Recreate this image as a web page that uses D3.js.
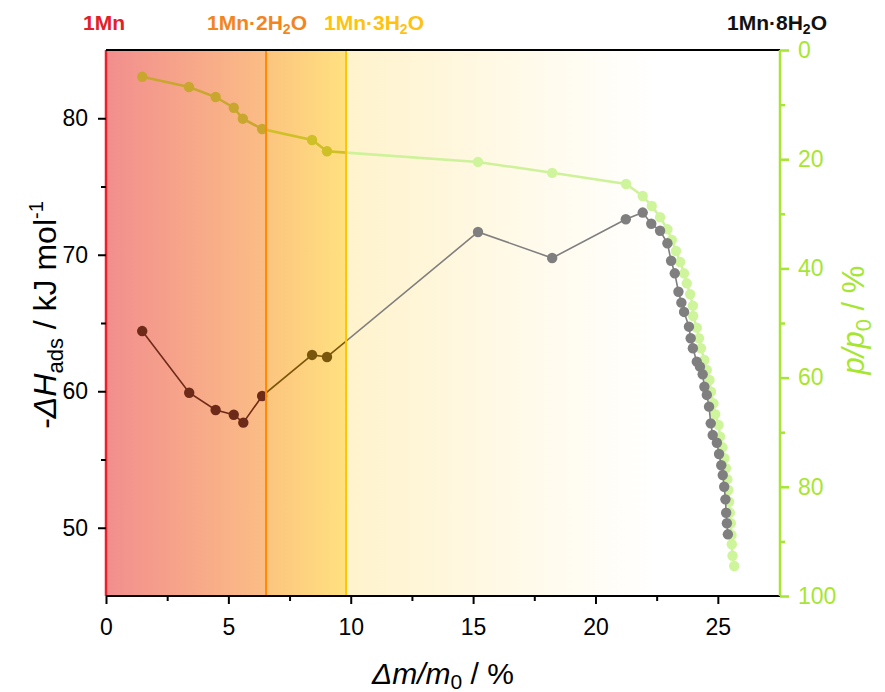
<!DOCTYPE html>
<html>
<head>
<meta charset="utf-8">
<script src="https://cdn.jsdelivr.net/npm/d3@7"></script>
<style>
html,body{margin:0;padding:0;background:#fff;}
svg{display:block;font-family:"Liberation Sans",Arial,sans-serif;}
</style>
</head>
<body>
<svg id="chart" width="885" height="692"></svg>
<script>
// ---- data ----
const enthalpyX = [1.48,3.40,4.48,5.22,5.61,6.38,8.42,9.03,15.2,18.23,21.24,21.93,22.28,22.64,22.94,23.09,23.24,23.39,23.51,23.62,23.82,23.89,23.98,24.14,24.27,24.38,24.45,24.55,24.64,24.71,24.79,24.96,25.05,25.14,25.20,25.26,25.31,25.34,25.37,25.41];
const enthalpyY = [64.41,59.89,58.63,58.28,57.7,59.65,62.66,62.51,71.67,69.76,72.6,73.09,72.27,71.76,70.84,69.56,68.64,67.29,66.49,65.81,64.73,63.88,63.15,62.17,61.80,61.24,60.33,59.73,58.87,57.65,56.79,56.23,55.40,54.58,53.86,53.0,52.08,51.10,50.33,49.52];
const pressureX = [1.48,3.39,4.48,5.22,5.59,6.38,8.42,9.03,15.2,18.23,21.25,21.93,22.30,22.64,22.94,23.12,23.29,23.46,23.62,23.73,23.87,23.98,23.99,24.14,24.23,24.31,24.45,24.55,24.66,24.72,24.82,24.89,25.03,25.09,25.19,25.27,25.33,25.39,25.43,25.46,25.49,25.53,25.56,25.57,25.60,25.67];
const pressureY = [4.89,6.78,8.61,10.57,12.58,14.47,16.48,18.55,20.5,22.5,24.54,26.74,28.57,30.64,32.84,34.8,36.81,38.83,40.9,42.73,44.74,46.83,48.72,50.86,52.8,54.63,56.78,58.61,60.44,62.58,64.71,66.72,68.68,70.82,72.77,74.78,76.61,78.63,80.59,82.73,84.74,86.68,88.83,90.53,92.62,94.51];
const phaseLabels = ["1Mn","1Mn·2H","1Mn·3H","1Mn·8H"];
const phaseBounds = [0, 6.54, 9.81];
const xTicks = [0,5,10,15,20,25];
const yLeftTicks = [50,60,70,80];
const yRightTicks = [0,20,40,60,80,100];

// ---- layout ----
const L = 106, R = 780, T = 50, B = 596;
const svg = d3.select("#chart");
const x = d3.scaleLinear().domain([0, 27.54]).range([L, R]);
const yL = d3.scaleLinear().domain([45, 85]).range([B, T]);
const yR = d3.scaleLinear().domain([0, 100]).range([T, B]);

const defs = svg.append("defs");
function grad(id, c1, c2){
  const g = defs.append("linearGradient").attr("id", id).attr("x1","0%").attr("x2","100%").attr("y1","0%").attr("y2","0%");
  g.append("stop").attr("offset","0%").attr("stop-color",c1);
  g.append("stop").attr("offset","100%").attr("stop-color",c2);
}
grad("g1", "#f28e8e", "#fbbd85");
grad("g2", "#fcc47f", "#ffe17f");
grad("g3", "#fff3cc", "#ffffff");

const regions = [
  {x0: 0, x1: phaseBounds[1], gray: "#6e2a18", green: "#c9a72e", greenLine: "#c9a72e"},
  {x0: phaseBounds[1], x1: phaseBounds[2], gray: "#7a560c", green: "#cfc027", greenLine: "#cfc027"},
  {x0: phaseBounds[2], x1: 27.54, gray: "#7f7f7f", green: "#cff59c", greenLine: "#cdf29a"}
];

// ---- shading ----
svg.append("rect").attr("x",x(0)).attr("y",T).attr("width",x(phaseBounds[1])-x(0)).attr("height",B-T).attr("fill","url(#g1)");
svg.append("rect").attr("x",x(phaseBounds[1])).attr("y",T).attr("width",x(phaseBounds[2])-x(phaseBounds[1])).attr("height",B-T).attr("fill","url(#g2)");
svg.append("rect").attr("x",x(phaseBounds[2])).attr("y",T).attr("width",x(22.5)-x(phaseBounds[2])).attr("height",B-T).attr("fill","url(#g3)");

// ---- data layer, tinted per region ----
const pPts = pressureX.map((v,i)=>[v, pressureY[i]]);
const hPts = enthalpyX.map((v,i)=>[v, enthalpyY[i]]);
regions.forEach((rg,i)=>{
  defs.append("clipPath").attr("id","clip"+i).append("rect")
    .attr("x",x(rg.x0)).attr("y",0).attr("width",x(rg.x1)-x(rg.x0) + (i===2?120:0)).attr("height",692);
  const g = svg.append("g").attr("clip-path",`url(#clip${i})`);
  g.append("path").datum(pPts)
    .attr("d", d3.line().x(d=>x(d[0])).y(d=>yR(d[1])))
    .attr("fill","none").attr("stroke",rg.greenLine).attr("stroke-width",2.5);
  g.selectAll("circle.p").data(pPts).enter().append("circle")
    .attr("cx", d=>x(d[0])).attr("cy", d=>yR(d[1])).attr("r",5.2).attr("fill",rg.green);
  g.append("path").datum(hPts)
    .attr("d", d3.line().x(d=>x(d[0])).y(d=>yL(d[1])))
    .attr("fill","none").attr("stroke",rg.gray).attr("stroke-width",1.6);
  g.selectAll("circle.h").data(hPts).enter().append("circle")
    .attr("cx", d=>x(d[0])).attr("cy", d=>yL(d[1])).attr("r",5.2).attr("fill",rg.gray);
});

const lineCols = ["#e8222b","#ff8a00","#ffc400"];
phaseBounds.forEach((b,i)=>{
  svg.append("line").attr("x1",x(b)).attr("x2",x(b)).attr("y1",T).attr("y2",B)
    .attr("stroke",lineCols[i]).attr("stroke-width", i===0?2.5:2);
});

// ---- axes ----
const ax = svg.append("g");
ax.append("line").attr("x1",L).attr("x2",R).attr("y1",T).attr("y2",T).attr("stroke","#000").attr("stroke-width",2);

const fs = 23;
const ff = "Liberation Sans, Arial, sans-serif";
const gx = ax.append("g").attr("transform",`translate(0,${B})`)
  .call(d3.axisBottom(x).tickValues(xTicks).tickSize(8).tickPadding(15).tickFormat(d3.format("d")));
gx.select(".domain").attr("stroke","#000").attr("stroke-width",2).attr("d",`M${L},0H${R}`);
gx.selectAll(".tick line").attr("stroke","#000").attr("stroke-width",2);
gx.selectAll(".tick text").attr("font-size",fs).attr("fill","#000").attr("font-family",ff);
ax.append("g").attr("transform",`translate(0,${B})`).call(d3.axisBottom(x).tickValues([2.5,7.5,12.5,17.5,22.5]).tickSize(5).tickFormat(""))
  .call(g=>{g.select(".domain").remove(); g.selectAll("line").attr("stroke","#000").attr("stroke-width",2);});

const gl = ax.append("g").attr("transform",`translate(${L},0)`)
  .call(d3.axisLeft(yL).tickValues(yLeftTicks).tickSize(8).tickPadding(10));
gl.select(".domain").remove();
gl.selectAll(".tick line").attr("stroke","#000").attr("stroke-width",2);
gl.selectAll(".tick text").attr("font-size",fs).attr("fill","#000").attr("font-family",ff);
ax.append("g").attr("transform",`translate(${L},0)`).call(d3.axisLeft(yL).tickValues([55,65,75]).tickSize(5).tickFormat(""))
  .call(g=>{g.select(".domain").remove(); g.selectAll("line").attr("stroke","#000").attr("stroke-width",2);});

const green = "#a6e632";
const gr = ax.append("g").attr("transform",`translate(${R},0)`)
  .call(d3.axisRight(yR).tickValues(yRightTicks).tickSize(9).tickPadding(9));
gr.select(".domain").attr("stroke",green).attr("stroke-width",2.5).attr("d",`M0,${T}V${B}`);
gr.selectAll(".tick line").attr("stroke",green).attr("stroke-width",2.5);
gr.selectAll(".tick text").attr("font-size",fs).attr("fill",green).attr("font-family",ff);
ax.append("g").attr("transform",`translate(${R},0)`).call(d3.axisRight(yR).tickValues([10,30,50,70,90]).tickSize(5).tickFormat(""))
  .call(g=>{g.select(".domain").remove(); g.selectAll("line").attr("stroke",green).attr("stroke-width",2.5);});

// ---- titles ----
const lt = svg.append("text").attr("transform",`translate(56,315) rotate(-90)`)
  .attr("text-anchor","middle").attr("font-size",32).attr("fill","#000");
lt.append("tspan").text("-");
lt.append("tspan").attr("font-style","italic").text("ΔH");
lt.append("tspan").attr("font-size",22).attr("dy",7).text("ads");
lt.append("tspan").attr("dy",-7).text(" / kJ mol");
lt.append("tspan").attr("font-size",20).attr("dy",-13).text("-1");

const bt = svg.append("text").attr("x",443).attr("y",684).attr("text-anchor","middle").attr("font-size",30).attr("fill","#000");
bt.append("tspan").attr("font-style","italic").text("Δm/m");
bt.append("tspan").attr("font-size",21).attr("dy",5).text("0");
bt.append("tspan").attr("dy",-5).text(" / %");

const rt = svg.append("text").attr("transform",`translate(864,320) rotate(-90)`)
  .attr("text-anchor","middle").attr("font-size",31).attr("fill",green);
rt.append("tspan").attr("font-style","italic").text("p/p");
rt.append("tspan").attr("font-size",22).attr("dy",7).text("0");
rt.append("tspan").attr("dy",-7).text(" / %");

// ---- phase labels ----
const labelX = [104, 257, 374, 777];
const labelCol = ["#e3202a","#f28522","#ffc20e","#111"];
phaseLabels.forEach((t,i)=>{
  const tx = svg.append("text").attr("x",labelX[i]).attr("y",30).attr("text-anchor","middle")
    .attr("font-size",21).attr("font-weight","bold").attr("fill",labelCol[i]);
  tx.append("tspan").text(t);
  if(i>0){
    tx.append("tspan").attr("font-size",14).attr("dy",4).text("2");
    tx.append("tspan").attr("dy",-4).text("O");
  }
});
</script>
</body>
</html>
